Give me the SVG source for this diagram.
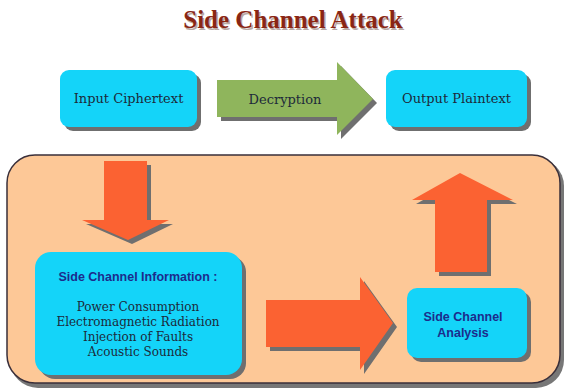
<svg xmlns="http://www.w3.org/2000/svg" width="567" height="392" viewBox="0 0 567 392">
  <style>
    .box { fill: #14d4f9; }
    .shadow { fill: #6f6f6f; }
    .lbl { font-family: "DejaVu Serif", "Liberation Serif", serif; font-size: 12px; fill: #1d2a3a; text-anchor: middle; }
    .big { font-size: 13px; }
    .bold { font-family: "Liberation Sans", "DejaVu Sans", sans-serif; font-weight: bold; font-size: 12.5px; fill: #1c2c8c; text-anchor: middle; }
    .orange { fill: #fb6232; }
  </style>
  <rect width="567" height="392" fill="#ffffff"/>

  <!-- title -->
  <g id="title">
    <text x="294.5" y="29.5" text-anchor="middle" font-family="Liberation Serif, serif" font-weight="bold" font-size="25" fill="#b9a9a4">Side Channel Attack</text>
    <text x="293" y="28" text-anchor="middle" font-family="Liberation Serif, serif" font-weight="bold" font-size="25" fill="#8a2614">Side Channel Attack</text>
  </g>

  <!-- attack region -->
  <g id="region">
    <rect x="10" y="158" width="554" height="230" rx="28" fill="#777777"/>
    <rect x="7" y="155" width="553" height="228" rx="28" fill="#fdc897" stroke="#3a2f3a" stroke-width="1.5"/>
  </g>

  <g id="input">
    <rect class="shadow" x="64" y="74" width="137" height="57" rx="9"/>
    <rect class="box" x="60" y="70" width="137" height="57" rx="9"/>
    <text class="lbl big" x="128.5" y="103">Input Ciphertext</text>
  </g>

  <g id="output">
    <rect class="shadow" x="390" y="74" width="141" height="57" rx="9"/>
    <rect class="box" x="386" y="70" width="141" height="57" rx="9"/>
    <text class="lbl big" x="456.5" y="103">Output Plaintext</text>
  </g>

  <g id="info">
    <rect class="shadow" x="39" y="256" width="207" height="123" rx="16"/>
    <rect class="box" x="35" y="252" width="207" height="123" rx="16"/>
    <text class="bold" x="138" y="281">Side Channel Information :</text>
    <text class="lbl" x="138" y="311">Power Consumption</text>
    <text class="lbl" x="138" y="326">Electromagnetic Radiation</text>
    <text class="lbl" x="138" y="341">Injection of Faults</text>
    <text class="lbl" x="138" y="356">Acoustic Sounds</text>
  </g>

  <g id="analysis">
    <rect class="shadow" x="411" y="292" width="120" height="70" rx="10"/>
    <rect class="box" x="407" y="288" width="120" height="70" rx="10"/>
    <text class="bold" x="463" y="321" font-size="14">Side Channel</text>
    <text class="bold" x="463" y="337" font-size="14">Analysis</text>
  </g>

  <!-- connectors -->
  <g id="connectors">
    <!-- decryption arrow -->
    <polygon class="shadow" points="221,84 341,84 341,66 377,103 341,139 341,121 221,121"/>
    <polygon points="217,80 337,80 337,62 373,99 337,135 337,117 217,117" fill="#8fb55c"/>
    <text class="lbl big" x="285" y="104">Decryption</text>

    <!-- down into information -->
    <polygon class="shadow" points="108,165 151,165 151,224 173,224 132,244 86,224 108,224"/>
    <polygon class="orange" points="104,161 147,161 147,220 169,220 128,240 82,220 104,220"/>

    <!-- information to analysis -->
    <polygon class="shadow" points="270,304 364,304 364,281 397,327 364,374 364,351 270,351"/>
    <polygon class="orange" points="266,300 360,300 360,277 393,323 360,370 360,347 266,347"/>

    <!-- analysis up to output -->
    <polygon class="shadow" points="439,276 491,276 491,204 517,204 464,177 416,204 439,204"/>
    <polygon class="orange" points="435,272 487,272 487,200 513,200 460,173 412,200 435,200"/>
  </g>
</svg>
